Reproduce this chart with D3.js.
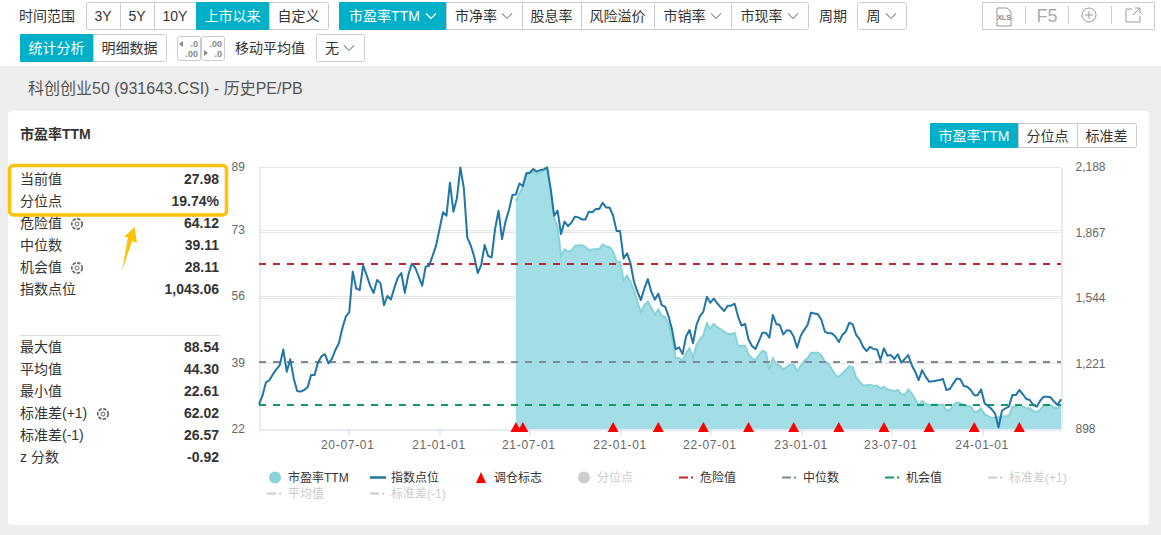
<!DOCTYPE html>
<meta charset="utf-8">
<style>
html, body { margin: 0; padding: 0; background: #fff; overflow: hidden; }
text { font-family: "Liberation Sans", "Noto Sans CJK SC", sans-serif; }
</style>
<body>
<div id="box1"></div>
</body>
<script src="https://d3js.org/d3.v7.min.js"></script>
<script>

// weekly index points, first week 2020-01-03
var indexValues = [1019,1062,1128,1138,1167,1192,1213,1289,1180,1241,1147,1085,1082,1090,1103,1164,1164,1226,1256,1267,
  1221,1243,1287,1320,1394,1451,1472,1673,1590,1582,1702,1656,1604,1568,1632,1615,1508,1553,1536,1594,
  1643,1666,1568,1656,1712,1692,1648,1604,1697,1702,1750,1801,1883,1965,1948,2111,1968,2034,2186,2083,
  1840,1801,1746,1666,1705,1804,1750,1743,1883,1973,1833,1919,1976,2050,2053,2107,2094,2157,2160,2178,
  2165,2173,2176,2186,2083,1948,1973,1858,1919,1897,1915,1943,1940,1930,1929,1968,1965,1981,1981,2012,
  1988,1988,1948,1873,1873,1738,1763,1714,1623,1574,1533,1590,1636,1574,1535,1564,1508,1499,1451,1385,
  1290,1300,1267,1353,1385,1320,1410,1454,1476,1549,1520,1540,1517,1497,1479,1505,1505,1515,1451,1407,
  1415,1339,1307,1292,1331,1372,1372,1348,1459,1415,1410,1364,1384,1382,1353,1298,1356,1385,1410,1471,
  1467,1463,1435,1377,1369,1369,1353,1326,1361,1377,1421,1413,1361,1339,1303,1282,1303,1292,1290,1238,
  1295,1259,1262,1243,1266,1225,1243,1262,1213,1180,1139,1188,1156,1131,1133,1136,1139,1144,1090,1095,
  1123,1147,1143,1110,1106,1090,1064,1064,1093,1024,1011,996,975,905,988,1000,1008,1065,1065,1090,
  1069,1046,1041,1016,1008,1037,1057,1057,1054,1033,1016,1044];

// PE TTM only exists from week 74 on
var peStartWeek = 74;
var peValues = [80.3,82.3,83.8,87,87.4,87.8,87.2,87.6,88.1,88.5,82.7,75.9,73.7,66.1,68,67.4,67.6,68.8,69,69,
  68.6,67.7,67.9,68,68,69.2,68.7,68.5,67.4,64.8,64.8,59.9,61.2,59.7,57.5,54.6,51.8,53.7,54.6,53,
  51.2,52.6,51,50.7,48.6,45.6,40.2,40.1,39.5,41.4,42.6,40.2,43.5,45,46,49,47.6,48.9,48,47.5,
  46.9,46.3,46.3,46.6,43.2,43.3,43.3,41.1,40.1,39.6,40.9,42,41.6,37.1,40.1,38.5,38.2,37.1,37.9,38.4,
  38.5,36.8,38.1,39.4,40.1,41.5,41.5,41.5,40.8,39.2,38.8,37.3,35.8,35.3,36.2,37.1,38.1,37.8,35.2,34.1,
  33.1,33.2,33.3,33,33.1,32.4,32.8,32.1,32,31.6,32,30.9,30.7,32.1,31.1,29.6,28.1,29.2,28.4,28.2,
  28.2,28.2,28.2,28.2,26.7,26.9,28.1,28.8,28.6,28.1,27.9,27.7,26.4,26.4,27.3,25.8,25.3,24.9,24.9,25,
  25.2,25.2,25.4,27.7,27.7,28.1,27.7,27.3,27.3,26.6,26.3,26.9,28.1,28.1,28.1,27.5,27.3,28];

var rebalanceWeeks = [74,76,102,115,128,141,154,167,180,193,206,219];

var dangerValue = 64.12, medianValue = 39.11, chanceValue = 28.11;

var peTicks = [22,39,56,73,89];
var indexTicks = [898,1221,1544,1867,2188];
var xTickLabels = ["2020-07-01","2021-01-01","2021-07-01","2022-01-01","2022-07-01","2023-01-01","2023-07-01","2024-01-01"];

var statsTop = [["当前值","27.98"],["分位点","19.74%"],["危险值","64.12"],["中位数","39.11"],["机会值","28.11"],["指数点位","1,043.06"]];
var statsBottom = [["最大值","88.54"],["平均值","44.30"],["最小值","22.61"],["标准差(+1)","62.02"],["标准差(-1)","26.57"],["z 分数","-0.92"]];

var width = 1161, height = 535;
var teal = "#00b0c8", borderCol = "#c9ccd4", textCol = "#333";

var parseDay = d3.timeParse("%Y-%m-%d");
var weeks = d3.range(indexValues.length).map(function(i) { return d3.timeDay.offset(parseDay("2020-01-03"), i * 7); });

var x = d3.scaleTime().domain([weeks[0], weeks[weeks.length - 1]]).range([259, 1061]);
var yPe = d3.scaleLinear().domain([22, 89]).range([429, 167]);
var yIndex = d3.scaleLinear().domain([898, 2188]).range([429, 167]);

var svg = d3.select("#box1").append("svg")
    .attr("width", width)
    .attr("height", height)
    .style("display", "block");

// page background
svg.append("rect").attr("y", 66).attr("width", width).attr("height", height - 66).attr("fill", "#eeeeee");
svg.append("rect").attr("x", 8).attr("y", 111).attr("width", 1141).attr("height", 414).attr("rx", 4).attr("fill", "#fff");

function label(txt, px, py, opts) {
  opts = opts || {};
  return svg.append("text")
    .attr("x", px).attr("y", py)
    .attr("text-anchor", opts.anchor || "start")
    .attr("dominant-baseline", "central")
    .attr("fill", opts.fill || textCol)
    .attr("font-size", opts.size || 14)
    .attr("font-weight", opts.weight || "normal")
    .text(txt);
}

function chevron(px, py, col) {
  svg.append("path")
    .attr("d", "M" + (px - 5) + "," + (py - 2) + "L" + px + "," + (py + 3) + "L" + (px + 5) + "," + (py - 2))
    .attr("fill", "none").attr("stroke", col).attr("stroke-width", 1.2);
}

// button group: each entry is text, left edge, right edge, active, has chevron
function btnGroup(list, y0, h) {
  var x0 = list[0][1], x1 = list[list.length - 1][2];
  svg.append("rect").attr("x", x0 + .5).attr("y", y0 + .5).attr("width", x1 - x0).attr("height", h)
    .attr("rx", 2).attr("fill", "#fff").attr("stroke", borderCol);
  list.forEach(function(b, i) {
    if (b[3]) {
      svg.append("rect").attr("x", b[1]).attr("y", y0).attr("width", b[2] - b[1]).attr("height", h + 1)
        .attr("rx", 1).attr("fill", teal);
    } else if (i > 0) {
      svg.append("line").attr("x1", b[1] + .5).attr("x2", b[1] + .5).attr("y1", y0).attr("y2", y0 + h)
        .attr("stroke", borderCol);
    }
    var cx = (b[1] + b[2]) / 2 - (b[4] ? 8 : 0);
    label(b[0], cx, y0 + h / 2 + .5, {anchor: "middle", fill: b[3] ? "#fff" : textCol});
    if (b[4]) chevron(b[2] - 15, y0 + h / 2, b[3] ? "#fff" : "#999");
  });
}

label("时间范围", 19, 16);
btnGroup([["3Y",86,120],["5Y",120,154],["10Y",154,196],["上市以来",196,269,true],["自定义",269,328]], 2, 27);
btnGroup([["市盈率TTM",339,446,true,true],["市净率",446,522,false,true],["股息率",522,581],["风险溢价",581,654],["市销率",654,731,false,true],["市现率",731,808,false,true]], 2, 27);
label("周期", 819, 16);
btnGroup([["周",857,906,false,true]], 2, 27);

// export tools
svg.append("rect").attr("x", 982.5).attr("y", 2.5).attr("width", 172).attr("height", 27).attr("fill", "#fff").attr("stroke", borderCol);
[1025, 1068, 1111].forEach(function(sx) {
  svg.append("line").attr("x1", sx + .5).attr("x2", sx + .5).attr("y1", 6).attr("y2", 24).attr("stroke", borderCol);
});
svg.append("path").attr("d", "M997,8h10l4,4v14h-14z").attr("fill", "#fff").attr("stroke", "#999");
label("XLS", 1004, 17, {anchor: "middle", size: 7, weight: "bold", fill: "#888"});
label("F5", 1047, 15.5, {anchor: "middle", size: 18, fill: "#aaa"});
svg.append("circle").attr("cx", 1089).attr("cy", 15).attr("r", 7).attr("fill", "none").attr("stroke", "#999");
svg.append("path").attr("d", "M1085,15h8M1089,11v8").attr("stroke", "#999");
svg.append("path").attr("d", "M1132,9h-6v13h14v-6M1133,15l7,-7M1135,8h5v5").attr("fill", "none").attr("stroke", "#999");

btnGroup([["统计分析",20,93,true],["明细数据",93,166]], 34, 27);
[[177, ".0", ".00", "M183,41l-4,3l4,3z"], [201, ".00", ".0", "M204,50l4,3l-4,3z"]].forEach(function(d) {
  svg.append("rect").attr("x", d[0] + .5).attr("y", 36.5).attr("width", 23).attr("height", 24).attr("rx", 2)
    .attr("fill", "#fff").attr("stroke", borderCol);
  label(d[1], d[0] + 21, 44, {anchor: "end", size: 9, weight: "bold", fill: "#888"});
  label(d[2], d[0] + 21, 54, {anchor: "end", size: 9, weight: "bold", fill: "#888"});
  svg.append("path").attr("d", d[3]).attr("fill", "#888");
});
label("移动平均值", 235, 48);
btnGroup([["无",316,364,false,true]], 34, 27);

label("科创创业50 (931643.CSI) - 历史PE/PB", 28, 88, {size: 16, fill: "#555"});
label("市盈率TTM", 20, 134, {size: 14, weight: "bold"});
btnGroup([["市盈率TTM",930,1018,true],["分位点",1018,1077],["标准差",1077,1136]], 123, 24);

// stats panel
function statRows(rows, y0) {
  rows.forEach(function(r, i) {
    label(r[0], 20, y0 + i * 22);
    label(r[1], 219, y0 + i * 22, {anchor: "end", weight: "bold"});
  });
}
statRows(statsTop, 179);
statRows(statsBottom, 347);
svg.append("line").attr("x1", 20).attr("x2", 220).attr("y1", 335.5).attr("y2", 335.5).attr("stroke", "#ddd");

[[77, 224], [77, 268], [103, 414]].forEach(function(g) {
  svg.append("circle").attr("cx", g[0]).attr("cy", g[1]).attr("r", 5.2).attr("fill", "none")
    .attr("stroke", "#666").attr("stroke-width", 1.7).attr("stroke-dasharray", "3.4 1.4");
  svg.append("circle").attr("cx", g[0]).attr("cy", g[1]).attr("r", 2).attr("fill", "none").attr("stroke", "#666");
});

svg.append("rect").attr("x", 9.5).attr("y", 165.5).attr("width", 217).attr("height", 49.5).attr("rx", 4)
  .attr("fill", "none").attr("stroke", "#ffc107").attr("stroke-width", 3.5);
svg.append("path").attr("d", "M134.5,227L137,243L132,241L122,271L128,237L124,237Z").attr("fill", "#ffc107");

// grid lines from both y scales
svg.append("g").selectAll("line").data(peTicks.slice(1, 4)).join("line")
  .attr("x1", 259).attr("x2", 1061)
  .attr("y1", function(d) { return Math.round(yPe(d)) + .5; })
  .attr("y2", function(d) { return Math.round(yPe(d)) + .5; })
  .attr("stroke", "#e6e6e6");
svg.append("g").selectAll("line").data(indexTicks.slice(1, 4)).join("line")
  .attr("x1", 259).attr("x2", 1061)
  .attr("y1", function(d) { return Math.round(yIndex(d)) + .5; })
  .attr("y2", function(d) { return Math.round(yIndex(d)) + .5; })
  .attr("stroke", "#e6e6e6");
svg.append("line").attr("x1", 259).attr("x2", 1061).attr("y1", 167.5).attr("y2", 167.5).attr("stroke", "#e6e6e6");

// PE area and line
var peWeeks = peValues.map(function(v, i) { return {date: weeks[peStartWeek + i], value: v}; });
svg.append("path").datum(peWeeks)
  .attr("fill", "#a3dde5")
  .attr("d", d3.area().x(function(d) { return x(d.date); }).y0(yPe(22)).y1(function(d) { return yPe(d.value); }));
svg.append("path").datum(peWeeks)
  .attr("fill", "none").attr("stroke", "#87d3d9").attr("stroke-width", 2)
  .attr("d", d3.line().x(function(d) { return x(d.date); }).y(function(d) { return yPe(d.value); }));

// axes
var axisCol = "#ccd6eb";
var gLeft = svg.append("g").attr("transform", "translate(259.5,0)").call(d3.axisLeft(yPe).tickValues(peTicks).tickSize(0).tickPadding(14));
var gRight = svg.append("g").attr("transform", "translate(1061.5,0)").call(d3.axisRight(yIndex).tickValues(indexTicks).tickSize(0).tickPadding(14).tickFormat(d3.format(",")));
var gBottom = svg.append("g").attr("transform", "translate(0,429.5)")
  .call(d3.axisBottom(x).tickValues(xTickLabels.map(parseDay)).tickSize(6).tickSizeOuter(0).tickPadding(5).tickFormat(d3.timeFormat("%y-%m-%d")));
[gLeft, gRight, gBottom].forEach(function(g) {
  g.select(".domain").attr("stroke", axisCol);
  g.selectAll(".tick line").attr("stroke", axisCol);
  g.selectAll("text").attr("fill", "#666").attr("font-size", 12)
    .attr("font-family", '"Liberation Sans", sans-serif');
});
gBottom.selectAll("text").style("letter-spacing", "0.7px").attr("dx", -1);
gLeft.selectAll("text").attr("text-anchor", "start").attr("x", -28);

// threshold lines
[[dangerValue, "#c5262b"], [medianValue, "#7f8a99"], [chanceValue, "#0f9d63"]].forEach(function(t) {
  svg.append("line")
    .attr("x1", 259).attr("x2", 1061)
    .attr("y1", Math.round(yPe(t[0]))).attr("y2", Math.round(yPe(t[0])))
    .attr("stroke", t[1]).attr("stroke-width", 2).attr("stroke-dasharray", "7 7");
});

// index line
svg.append("path").datum(indexValues)
  .attr("fill", "none").attr("stroke", "#2176a5").attr("stroke-width", 2).attr("stroke-linejoin", "round")
  .attr("d", d3.line().x(function(d, i) { return x(weeks[i]); }).y(function(d) { return yIndex(d); }));

// rebalance markers
svg.append("g").selectAll("path").data(rebalanceWeeks).join("path")
  .attr("fill", "#ff0000")
  .attr("d", function(w) {
    var px = x(weeks[w]), py = yPe(22);
    return "M" + px + "," + (py - 7) + "L" + (px + 5.5) + "," + (py + 3) + "L" + (px - 5.5) + "," + (py + 3) + "Z";
  });

// legend
function legendDash(px, py, col) {
  svg.append("path").attr("d", "M" + px + "," + py + "h9M" + (px + 12) + "," + py + "h2")
    .attr("stroke", col).attr("stroke-width", 2);
}
svg.append("circle").attr("cx", 275).attr("cy", 477.5).attr("r", 6).attr("fill", "#87d3d9");
label("市盈率TTM", 288, 478, {size: 12});
svg.append("line").attr("x1", 370).attr("x2", 386).attr("y1", 477.5).attr("y2", 477.5).attr("stroke", "#2176a5").attr("stroke-width", 2.5);
label("指数点位", 391, 478, {size: 12});
svg.append("path").attr("d", "M481,472L486,483L476,483Z").attr("fill", "#ff0000");
label("调仓标志", 494, 478, {size: 12});
svg.append("circle").attr("cx", 584).attr("cy", 477.5).attr("r", 6).attr("fill", "#ccc");
label("分位点", 597, 478, {size: 12, fill: "#ccc"});
legendDash(679, 477.5, "#c5262b");
label("危险值", 700, 478, {size: 12});
legendDash(782, 477.5, "#7f8a99");
label("中位数", 803, 478, {size: 12});
legendDash(885, 477.5, "#0f9d63");
label("机会值", 906, 478, {size: 12});
legendDash(988, 477.5, "#ccc");
label("标准差(+1)", 1009, 478, {size: 12, fill: "#ccc"});
legendDash(267, 493.5, "#ccc");
label("平均值", 288, 494, {size: 12, fill: "#ccc"});
legendDash(370, 493.5, "#ccc");
label("标准差(-1)", 391, 494, {size: 12, fill: "#ccc"});

</script>
